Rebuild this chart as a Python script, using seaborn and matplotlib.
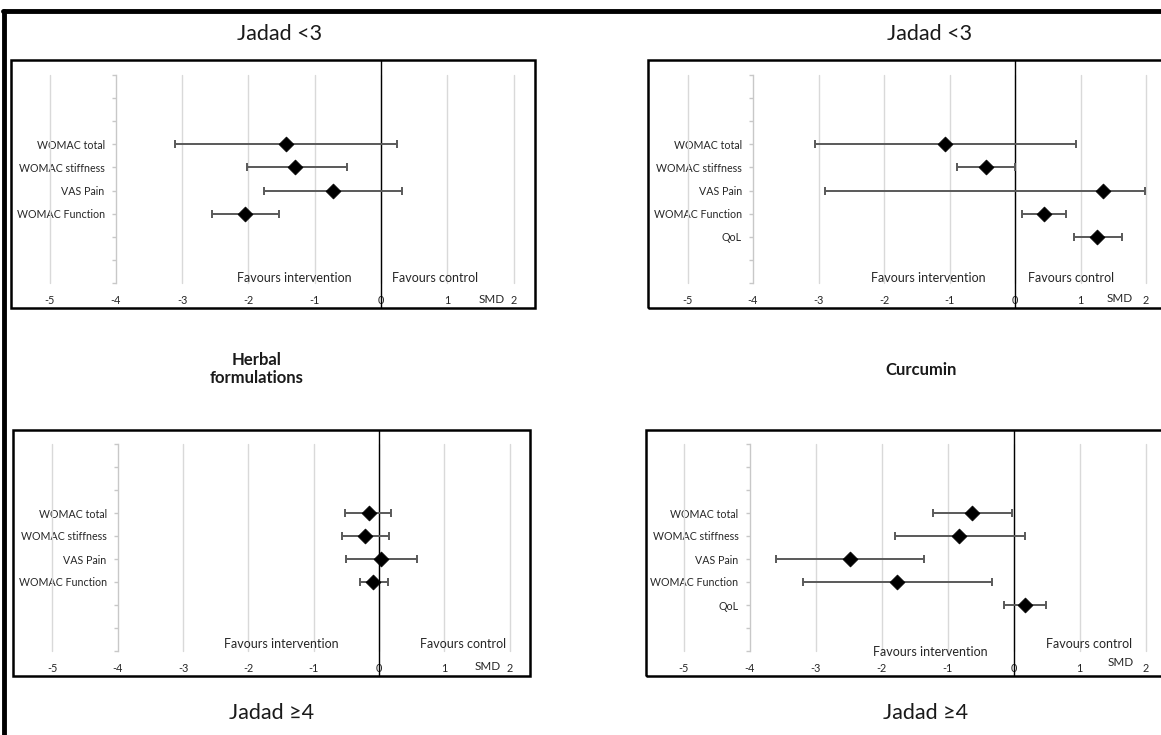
import matplotlib
matplotlib.use("Agg")
import matplotlib.pyplot as plt
from matplotlib.lines import Line2D
from matplotlib.patches import Rectangle
import seaborn as sns
import pandas as pd

sns.set_theme(style="white")
plt.rcParams['font.family'] = ['Lato', 'DejaVu Sans']

# ---------------- data ----------------
outcomes_4 = ["WOMAC total", "WOMAC stiffness", "VAS Pain", "WOMAC Function"]
outcomes_5 = ["WOMAC total", "WOMAC stiffness", "VAS Pain", "WOMAC Function", "QoL"]

herbal_low_smd = [-1.43, -1.29, -0.73, -2.05]
herbal_low_lo = [-3.11, -2.02, -1.76, -2.55]
herbal_low_hi = [0.24, -0.52, 0.31, -1.54]

curcumin_low_smd = [-1.07, -0.45, 1.34, 0.45, 1.25]
curcumin_low_lo = [-3.06, -0.88, -2.90, 0.11, 0.90]
curcumin_low_hi = [0.93, 0.00, 1.99, 0.78, 1.64]

herbal_high_smd = [-0.16, -0.21, 0.03, -0.09]
herbal_high_lo = [-0.52, -0.56, -0.50, -0.29]
herbal_high_hi = [0.19, 0.16, 0.58, 0.14]

curcumin_high_smd = [-0.63, -0.82, -2.48, -1.77, 0.17]
curcumin_high_lo = [-1.22, -1.79, -3.60, -3.19, -0.15]
curcumin_high_hi = [-0.02, 0.17, -1.35, -0.33, 0.49]

x_ticks = [-5, -4, -3, -2, -1, 0, 1, 2]
x_tick_labels = ["-5", "-4", "-3", "-2", "-1", "0", "1", "2"]

# ---------------- figure ----------------
W, H = 1161, 735
fig = plt.figure(figsize=(W / 100, H / 100), dpi=100)
fig.patch.set_facecolor("white")

GRID = "#d9d9d9"
BAR = "#595959"
TXT = "#262626"


def make_panel(box, zero_px, unit_px, y9_px, y0_px, outcomes, smd, lo, hi,
               fav_int, fav_ctl, smd_pos):
    bx0, bx1, by0, by1 = box
    ax = fig.add_axes([bx0 / W, 1 - by1 / H, (bx1 - bx0) / W, (by1 - by0) / H])
    ypu = (y0_px - y9_px) / 9.0
    ax.set_xlim((bx0 - zero_px) / unit_px, (bx1 - zero_px) / unit_px)
    ax.set_ylim(-(by1 - y0_px) / ypu, 9 + (y9_px - by0) / ypu)
    ax.set_facecolor("white")

    # frame box
    ax.add_patch(Rectangle((0, 0), 1, 1, transform=ax.transAxes, fill=False,
                           ec="black", lw=1.8, clip_on=False, zorder=10))
    for s in ["top", "right", "bottom"]:
        ax.spines[s].set_visible(False)

    # vertical axis at x=-4 (Excel style)
    ax.spines["left"].set_position(("data", -4))
    ax.spines["left"].set_color("#c8c8c8")
    ax.spines["left"].set_linewidth(1.0)
    ax.spines["left"].set_bounds(0, 9)
    n = len(outcomes)
    ypos = [6 - i for i in range(n)]
    yt = list(range(10))
    ylabels = ["" for _ in yt]
    for name, yv in zip(outcomes, ypos):
        ylabels[yv] = name
    ax.set_yticks(yt)
    ax.set_yticklabels(ylabels, fontsize=7.7, color=TXT)
    ax.tick_params(axis="y", which="major", direction="out", length=3,
                   width=1.0, color="#c8c8c8", pad=5, left=True)

    # x axis labels
    ax.spines["bottom"].set_position(("data", 0))
    ax.set_xticks(x_ticks)
    ax.set_xticklabels(x_tick_labels, fontsize=7.8, color=TXT)
    ax.tick_params(axis="x", length=0, pad=8.5, bottom=True)

    # gridlines (except at -4, where the axis is)
    for xv in x_ticks:
        if xv != -4:
            ax.plot([xv, xv], [0, 9], color=GRID, lw=1.0, zorder=1)

    # zero line across whole box
    ax.axvline(0, color="black", lw=1.0, zorder=2)

    df = pd.DataFrame({"outcome": outcomes, "smd": smd, "lo": lo, "hi": hi, "y": ypos})
    ax.errorbar(df["smd"], df["y"],
                xerr=[df["smd"] - df["lo"], df["hi"] - df["smd"]],
                fmt="none", ecolor=BAR, elinewidth=1.4, capsize=3.0,
                capthick=1.4, zorder=3)
    sns.scatterplot(data=df, x="smd", y="y", marker="D", s=58, color="black",
                    edgecolor="black", linewidth=0.5, ax=ax, zorder=5, legend=False)
    ax.set_xlabel("")
    ax.set_ylabel("")

    ax.text(fav_int[0], fav_int[1], "Favours intervention", ha="center", va="center",
            fontsize=9, color=TXT)
    ax.text(fav_ctl[0], fav_ctl[1], "Favours control", ha="center", va="center",
            fontsize=9, color=TXT)
    ax.text(smd_pos[0], smd_pos[1], "SMD", ha="center", va="center",
            fontsize=8.4, color=TXT)
    return ax


make_panel((11, 535, 60, 308), 381, 66.3, 75, 283, outcomes_4,
           herbal_low_smd, herbal_low_lo, herbal_low_hi,
           (-1.30, 0.22), (0.82, 0.22), (1.67, -0.70))
make_panel((648, 1180, 60, 308), 1015, 65.5, 75, 283, outcomes_5,
           curcumin_low_smd, curcumin_low_lo, curcumin_low_hi,
           (-1.32, 0.22), (0.85, 0.22), (1.60, -0.65))
make_panel((13, 530, 430, 676), 379, 65.3, 444, 651, outcomes_4,
           herbal_high_smd, herbal_high_lo, herbal_high_hi,
           (-1.50, 0.30), (1.29, 0.30), (1.67, -0.66))
make_panel((646, 1180, 430, 676), 1013.5, 66.0, 444, 651, outcomes_5,
           curcumin_high_smd, curcumin_high_lo, curcumin_high_hi,
           (-1.26, -0.06), (1.15, 0.30), (1.63, -0.52))

# outer thick frame (top and left)
fig.add_artist(Line2D([3 / W, 1.0], [1 - 11 / H, 1 - 11 / H], color="black", lw=3.5,
                      transform=fig.transFigure))
fig.add_artist(Line2D([4 / W, 4 / W], [0.0, 1 - 11 / H], color="black", lw=3.5,
                      transform=fig.transFigure))

# titles
fig.text(280 / W, 1 - 34 / H, "Jadad <3", ha="center", va="center", fontsize=15.5, color="#1a1a1a")
fig.text(930 / W, 1 - 34 / H, "Jadad <3", ha="center", va="center", fontsize=15.5, color="#1a1a1a")
fig.text(272 / W, 1 - 713 / H, "Jadad \u22654", ha="center", va="center", fontsize=15.5, color="#1a1a1a")
fig.text(926 / W, 1 - 713 / H, "Jadad \u22654", ha="center", va="center", fontsize=15.5, color="#1a1a1a")
fig.text(257 / W, 1 - 369 / H, "Herbal\nformulations", ha="center", va="center",
         fontsize=12, fontweight="bold", color="#1a1a1a", linespacing=1.15)
fig.text(921 / W, 1 - 370 / H, "Curcumin", ha="center", va="center",
         fontsize=12, fontweight="bold", color="#1a1a1a")

fig.savefig("out.png", dpi=100, facecolor="white")
